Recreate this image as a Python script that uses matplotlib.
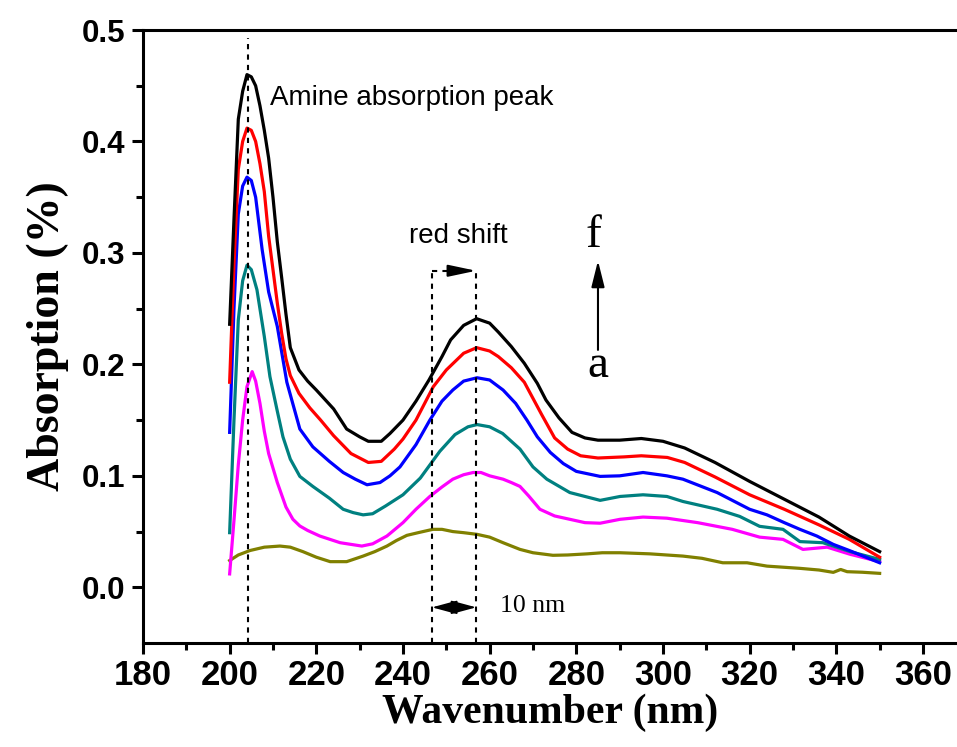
import numpy as np
import matplotlib.pyplot as plt

# wavelength / absorption (a = lowest, f = highest)
x_f = [200, 201, 202, 203, 204, 205, 206, 207, 208, 209, 210, 211, 212, 213, 214, 216, 218, 220, 224, 227,
       230, 232, 235, 237, 240, 243, 246, 249, 251, 254, 257, 260, 262, 265, 268, 271, 273, 276, 279, 282,
       285, 290, 295, 300, 305, 312, 320, 328, 336, 343, 350]
y_f = [0.236, 0.33, 0.42, 0.445, 0.46, 0.458, 0.45, 0.432, 0.41, 0.385, 0.35, 0.31, 0.278, 0.245, 0.215, 0.195,
       0.185, 0.177, 0.16, 0.142, 0.135, 0.131, 0.131, 0.138, 0.15, 0.167, 0.186, 0.207, 0.222, 0.235, 0.241,
       0.237, 0.229, 0.216, 0.201, 0.183, 0.168, 0.152, 0.139, 0.134, 0.132, 0.132, 0.1335, 0.131, 0.125,
       0.112, 0.095, 0.079, 0.063, 0.046, 0.032]

x_e = [200, 201, 202, 203, 204, 205, 206, 207, 208, 209, 210, 211, 212, 213, 214, 216, 218.5, 221, 224, 228,
       232, 235, 238, 240, 243, 247, 250, 254, 257, 260, 262, 265, 268, 272, 275, 278, 281, 285, 291, 295,
       301, 305, 312, 320, 328, 336, 343, 350]
y_e = [0.184, 0.29, 0.375, 0.40, 0.412, 0.41, 0.40, 0.38, 0.355, 0.315, 0.285, 0.255, 0.228, 0.205, 0.19, 0.174,
       0.161, 0.15, 0.136, 0.12, 0.112, 0.113, 0.124, 0.133, 0.15, 0.18, 0.195, 0.21, 0.215, 0.212, 0.207,
       0.197, 0.184, 0.155, 0.134, 0.124, 0.118, 0.116, 0.117, 0.118, 0.1165, 0.112, 0.099, 0.083, 0.070,
       0.056, 0.043, 0.027]

x_d = [200, 201, 202, 203, 204, 205, 206, 207.5, 209, 211, 213.2, 216.2, 219.2, 223, 226.2, 229, 231.7, 234.7,
       237, 239.3, 243, 246.2, 249, 251.5, 254, 257.1, 260, 263.1, 266, 268.6, 271, 274, 277, 280, 285.5, 290,
       295.4, 300.9, 304.6, 312.5, 316, 320, 324, 328, 331.6, 335.5, 339.3, 343, 350]
y_d = [0.139, 0.25, 0.335, 0.36, 0.368, 0.365, 0.35, 0.303, 0.265, 0.234, 0.184, 0.142, 0.126, 0.113, 0.103,
       0.097, 0.092, 0.094, 0.1, 0.108, 0.128, 0.15, 0.167, 0.177, 0.185, 0.188, 0.186, 0.177, 0.165, 0.150,
       0.135, 0.121, 0.111, 0.104, 0.0995, 0.1, 0.103, 0.1, 0.097, 0.085, 0.078, 0.070, 0.065, 0.058, 0.052,
       0.046, 0.0385, 0.033, 0.022]

x_c = [200, 201, 202, 203, 204, 205, 206.3, 208, 209.3, 211, 212.3, 214, 216.2, 219.2, 223, 226.2, 228.5,
       230.8, 233, 236, 240, 244, 248.5, 252, 255, 257.1, 260, 263, 267, 270, 273.2, 278.5, 285.5, 290.1,
       295.4, 300.9, 304.6, 312.5, 317.7, 322.3, 327.7, 331.6, 336.9, 343.2, 350]
y_c = [0.049, 0.15, 0.24, 0.275, 0.289, 0.285, 0.267, 0.225, 0.189, 0.158, 0.135, 0.115, 0.0995, 0.0905, 0.08,
       0.07, 0.067, 0.065, 0.066, 0.073, 0.083, 0.098, 0.122, 0.137, 0.144, 0.146, 0.144, 0.138, 0.124, 0.108,
       0.097, 0.085, 0.078, 0.0815, 0.083, 0.0815, 0.077, 0.070, 0.0636, 0.0547, 0.052, 0.041, 0.040, 0.032,
       0.025]

x_b = [200, 201, 202, 203, 204, 205.2, 206, 207, 208, 209, 211, 213, 214.6, 216.2, 218, 220.8, 225.5, 230.5,
       233, 236.3, 240, 243, 246.2, 249, 251.5, 254, 256.2, 258, 260, 263.1, 265, 267, 269, 271.6, 275, 278.5,
       282, 285.5, 290.1, 295.4, 300.9, 308, 316, 322.3, 327.7, 332.3, 337.9, 343.2, 350]
y_b = [0.012, 0.06, 0.11, 0.15, 0.18, 0.1935, 0.185, 0.165, 0.14, 0.12, 0.094, 0.072, 0.061, 0.055, 0.051,
       0.046, 0.04, 0.037, 0.039, 0.046, 0.058, 0.07, 0.0815, 0.09, 0.097, 0.101, 0.103, 0.103, 0.1, 0.097,
       0.094, 0.0905, 0.082, 0.07, 0.064, 0.061, 0.058, 0.0575, 0.061, 0.063, 0.062, 0.058, 0.052, 0.045,
       0.043, 0.034, 0.036, 0.0296, 0.023]

x_a = [200, 202, 204.7, 208, 211.6, 214, 216.9, 220, 223.2, 227, 230.8, 233.5, 236.3, 238.5, 240.9, 243.5,
       246.9, 249, 251.5, 254, 257.1, 260, 263.1, 267, 270, 274.6, 278, 282.5, 286, 290.1, 297, 304.6, 309,
       313.8, 319.4, 324, 331.6, 336, 339.3, 341, 342.5, 346, 350]
y_a = [0.024, 0.029, 0.033, 0.036, 0.037, 0.036, 0.032, 0.027, 0.023, 0.023, 0.028, 0.032, 0.037, 0.042,
       0.0466, 0.049, 0.052, 0.052, 0.050, 0.049, 0.0475, 0.045, 0.040, 0.034, 0.031, 0.0287, 0.029, 0.030,
       0.031, 0.031, 0.030, 0.028, 0.026, 0.022, 0.022, 0.019, 0.017, 0.0155, 0.0134, 0.016, 0.014, 0.0135,
       0.0125]

curves = [(x_a, y_a, '#808000'), (x_b, y_b, '#ff00ff'), (x_c, y_c, '#008080'),
          (x_d, y_d, '#0000ff'), (x_e, y_e, '#ff0000'), (x_f, y_f, 'black')]

peak_nm = 204.2
shift_from, shift_to = 246.7, 256.9

fig = plt.figure(figsize=(9.57, 7.47), dpi=100)
ax = fig.add_axes([0.1494, 0.1392, 0.8506, 0.8206])

for xs, ys, col in curves:
    ax.plot(xs, ys, color=col, lw=2.3, solid_joinstyle='round')

# guide lines
dash = (0, (2.5, 2.5))
ax.plot([peak_nm, peak_nm], [-0.05, 0.493], ls=dash, color='black', lw=1.5)
ax.plot([shift_from, shift_from], [-0.05, 0.284], ls=dash, color='black', lw=1.5)
ax.plot([shift_to, shift_to], [-0.05, 0.284], ls=dash, color='black', lw=1.5)
ax.plot([shift_from, 252.0], [0.284, 0.284], ls=dash, color='black', lw=1.5)
ax.annotate('', xy=(shift_to, 0.284), xytext=(251.0, 0.284),
            arrowprops=dict(arrowstyle='-|>,head_length=1.7,head_width=0.36', color='black', lw=1.5,
                            shrinkA=0, shrinkB=0))
# 10 nm double arrow, drawn as two heads meeting in the middle
mid = (shift_from + shift_to) / 2
for end in (shift_from, shift_to):
    ax.annotate('', xy=(end, -0.018), xytext=(mid, -0.018),
                arrowprops=dict(arrowstyle='-|>,head_length=1.55,head_width=0.42', color='black', lw=1.2,
                                shrinkA=0, shrinkB=0))
ax.annotate('', xy=(285.0, 0.293), xytext=(285.0, 0.213),
            arrowprops=dict(arrowstyle='-|>,head_length=1.6,head_width=0.4', color='black', lw=1.5,
                            shrinkA=0, shrinkB=0))

ax.text(209.3, 0.439, 'Amine absorption peak', fontsize=20, family='Liberation Sans', va='center')
ax.text(252.7, 0.315, 'red shift', fontsize=20, family='Liberation Sans', va='center', ha='center')
ax.text(262.4, -0.017, '10 nm', fontsize=18.5, family='Liberation Serif', va='center')
ax.text(283.9, 0.315, 'f', fontsize=34, family='Liberation Serif', va='center', ha='center')
ax.text(285.0, 0.199, 'a', fontsize=34, family='Liberation Serif', va='center', ha='center')

ax.set_xlim(180, 367.85)
ax.set_ylim(-0.05, 0.5)
ax.set_xticks(np.arange(180, 361, 20))
ax.set_xticks(np.arange(190, 361, 20), minor=True)
ax.set_yticks(np.arange(0, 0.51, 0.1))
ax.set_yticks(np.arange(0.05, 0.5, 0.1), minor=True)
ax.set_yticklabels(['0.0', '0.1', '0.2', '0.3', '0.4', '0.5'])

for side in ['left', 'bottom', 'top']:
    ax.spines[side].set_linewidth(2.2)
ax.spines['right'].set_visible(False)
ax.tick_params(which='major', length=8, width=2.2, direction='out', top=False, right=False)
ax.tick_params(which='minor', length=5, width=2.2, direction='out', top=False, right=False)
ax.tick_params(axis='y', pad=5)
for lab in ax.get_xticklabels():
    lab.set_family('Liberation Sans')
    lab.set_fontweight('bold')
    lab.set_fontsize(25)
for lab in ax.get_yticklabels():
    lab.set_family('Liberation Sans')
    lab.set_fontweight('bold')
    lab.set_fontsize(22.5)

ax.set_xlabel('Wavenumber (nm)', family='Liberation Serif', fontweight='bold', fontsize=30, labelpad=1)
ax.set_ylabel('Absorption (%)', family='Liberation Serif', fontweight='bold', fontsize=33, labelpad=9)

fig.savefig('out.png', dpi=100)
